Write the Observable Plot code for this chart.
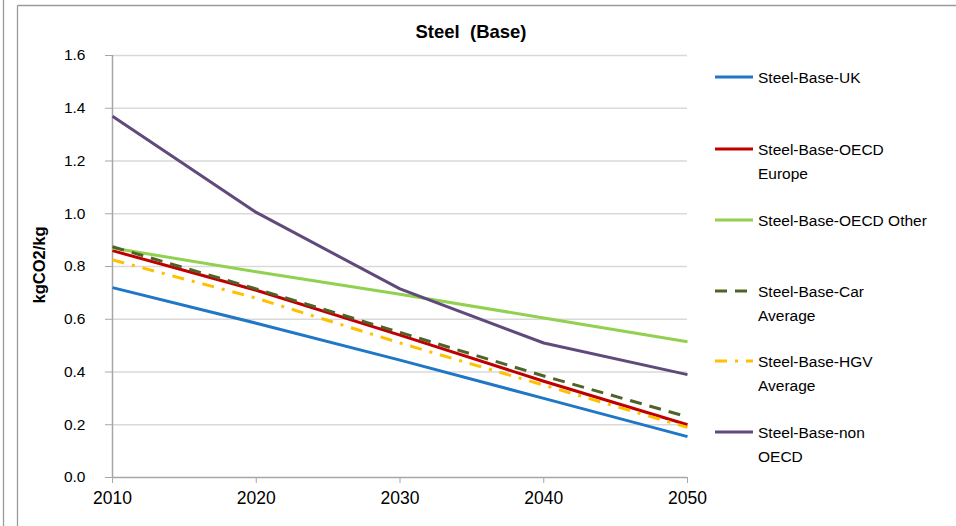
<!DOCTYPE html>
<html>
<head>
<meta charset="utf-8">
<script src="https://cdn.jsdelivr.net/npm/d3@7"></script>
<script src="https://cdn.jsdelivr.net/npm/@observablehq/plot@0.6"></script>
<style>
  html, body { margin: 0; padding: 0; background: #fff; }
  svg { display: block; }
</style>
</head>
<body>
<div id="chart"></div>
<script>
// Emission factors for steel production, base scenario (kgCO2 per kg)
const years = [2010, 2020, 2030, 2040, 2050];
const seriesNames = [
  "Steel-Base-UK",
  "Steel-Base-OECD Europe",
  "Steel-Base-OECD Other",
  "Steel-Base-Car Average",
  "Steel-Base-HGV Average",
  "Steel-Base-non OECD"
];
const ukValues        = [0.72, 0.585, 0.445, 0.30, 0.155];
const oecdEurValues   = [0.86, 0.71, 0.54, 0.365, 0.20];
const oecdOtherValues = [0.87, 0.78, 0.695, 0.605, 0.515];
const carAvgValues    = [0.875, 0.715, 0.55, 0.385, 0.23];
const hgvAvgValues    = [0.825, 0.68, 0.51, 0.35, 0.19];
const nonOecdValues   = [1.37, 1.005, 0.715, 0.51, 0.39];
const yTicks = [0, 0.2, 0.4, 0.6, 0.8, 1.0, 1.2, 1.4, 1.6];

// Legend labels wrap onto two lines like the original legend
const legendLines = [
  ["Steel-Base-UK"],
  ["Steel-Base-OECD", "Europe"],
  ["Steel-Base-OECD Other"],
  ["Steel-Base-Car", "Average"],
  ["Steel-Base-HGV", "Average"],
  ["Steel-Base-non", "OECD"]
];

const seriesValues = [ukValues, oecdEurValues, oecdOtherValues, carAvgValues, hgvAvgValues, nonOecdValues];
const colors = ["#1f77c6", "#c00000", "#92d050", "#4f6228", "#ffc000", "#604a7b"];
const dashes = [null, null, null, "12,8", "12,8,3,8", null];

const rows = seriesNames.flatMap((name, i) =>
  years.map((year, j) => ({ series: name, year, value: seriesValues[i][j] }))
);

const fontFamily = "'Liberation Sans', Arial, sans-serif";

const lineMarks = seriesNames.map((name, i) =>
  Plot.line(rows.filter(d => d.series === name), {
    x: "year",
    y: "value",
    stroke: colors[i],
    strokeWidth: 3,
    strokeDasharray: dashes[i] ?? undefined,
    strokeLinecap: "butt",
    strokeLinejoin: "round"
  })
);

const chart = Plot.plot({
  width: 956,
  height: 526,
  marginLeft: 112,
  marginRight: 269,
  marginTop: 55,
  marginBottom: 49,
  style: { fontFamily, fontSize: "15px", color: "#000", background: "#fff" },
  x: { domain: [2010, 2050] },
  y: { domain: [0, 1.6] },
  marks: [
    Plot.ruleY(yTicks.slice(1), { stroke: "#d9d9d9", strokeWidth: 1.3 }),
    Plot.ruleX([2010], { stroke: "#a6a6a6", strokeWidth: 1.5 }),
    Plot.ruleY([0], { stroke: "#a6a6a6", strokeWidth: 1.5 }),
    Plot.axisY({
      ticks: yTicks,
      tickFormat: d3.format(".1f"),
      tickSize: 7,
      tickPadding: 20,
      stroke: "#a6a6a6",
      fill: "#000",
      fontSize: 15.5,
      label: null
    }),
    Plot.axisX({
      ticks: years,
      tickFormat: d => String(d),
      tickSize: 6,
      tickPadding: 8,
      stroke: "#a6a6a6",
      fill: "#000",
      fontSize: 17.5,
      label: null
    }),
    ...lineMarks
  ]
});

document.getElementById("chart").appendChild(chart);

const svg = d3.select(chart);

// Outer chart frame
svg.append("line").attr("x1", 3.5).attr("x2", 3.5).attr("y1", 0).attr("y2", 526)
  .attr("stroke", "#9a9a9a").attr("stroke-width", 1.3);
svg.append("line").attr("x1", 17.5).attr("x2", 17.5).attr("y1", 5.5).attr("y2", 526)
  .attr("stroke", "#9a9a9a").attr("stroke-width", 1.3);
svg.append("line").attr("x1", 17.5).attr("x2", 956).attr("y1", 5.5).attr("y2", 5.5)
  .attr("stroke", "#9a9a9a").attr("stroke-width", 1.3);

// Title
svg.append("text")
  .attr("x", 471).attr("y", 38)
  .attr("text-anchor", "middle")
  .attr("font-family", fontFamily)
  .attr("font-size", 18.5).attr("font-weight", "bold")
  .attr("fill", "#000")
  .attr("xml:space", "preserve")
  .text("Steel  (Base)");

// Y-axis title
svg.append("text")
  .attr("transform", "translate(45,265) rotate(-90)")
  .attr("text-anchor", "middle")
  .attr("font-family", fontFamily)
  .attr("font-size", 16.5).attr("font-weight", "bold")
  .attr("fill", "#000")
  .text("kgCO2/kg");

// Legend
const legendLineY = [77, 149, 220, 291, 361, 432];
const legend = svg.append("g")
  .attr("font-family", fontFamily)
  .attr("font-size", 15.5)
  .attr("text-anchor", "start")
  .attr("fill", "#000");
seriesNames.forEach((name, i) => {
  const y = legendLineY[i];
  legend.append("line")
    .attr("x1", 715).attr("x2", 753).attr("y1", y).attr("y2", y)
    .attr("stroke", colors[i]).attr("stroke-width", 3)
    .attr("stroke-dasharray", dashes[i]);
  legendLines[i].forEach((t, k) => {
    legend.append("text")
      .attr("x", 758).attr("y", y + 5.5 + k * 24.5)
      .text(t);
  });
});
</script>
</body>
</html>
